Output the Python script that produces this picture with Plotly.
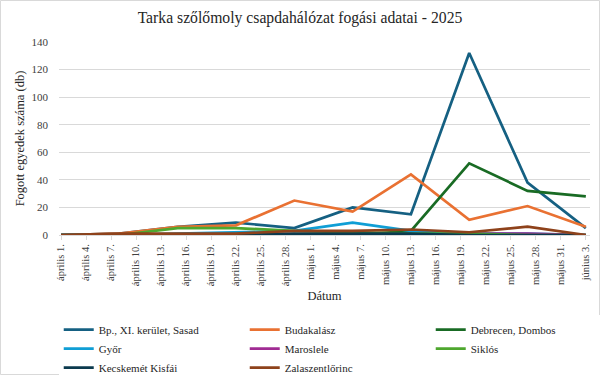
import plotly.graph_objects as go

dates = ["2025-04-01", "2025-04-08", "2025-04-15", "2025-04-22", "2025-04-29",
         "2025-05-06", "2025-05-13", "2025-05-20", "2025-05-27", "2025-06-03"]

bp_sasad = [0, 1, 6, 9, 5, 20, 15, 132, 38, 5]
budakalasz = [0, 1, 6, 7, 25, 17, 44, 11, 21, 6]
debrecen = [0, 0, 0, 0, 0, 0, 3, 52, 32, 28]
gyor = [0, 0, 1, 2, 3, 9, 3, 1, 1, 0]
maroslele = [0, 0, 0, 0, 0, 0, 0, 1, 1, 0]
siklos = [0, 0, 5, 5, 3, 2, 1, 1, 0, 0]
kecskemet = [0, 0, 0, 0, 1, 1, 1, 0, 0, 0]
zalaszentlorinc = [0, 1, 1, 1, 3, 3, 4, 2, 6, 0]

series_names = ["Bp., XI. kerület, Sasad", "Budakalász", "Debrecen, Dombos", "Győr",
                "Maroslele", "Siklós", "Kecskemét Kisfái", "Zalaszentlőrinc"]
series_values = [bp_sasad, budakalasz, debrecen, gyor, maroslele, siklos, kecskemet, zalaszentlorinc]
colors = ["#156082", "#E97132", "#196B24", "#0F9ED5", "#A02B93", "#4EA72E", "#0B3A4E", "#8E421B"]

tick_dates = ["2025-04-01", "2025-04-04", "2025-04-07", "2025-04-10", "2025-04-13", "2025-04-16",
              "2025-04-19", "2025-04-22", "2025-04-25", "2025-04-28", "2025-05-01", "2025-05-04",
              "2025-05-07", "2025-05-10", "2025-05-13", "2025-05-16", "2025-05-19", "2025-05-22",
              "2025-05-25", "2025-05-28", "2025-05-31", "2025-06-03"]
tick_labels = ["április 1.", "április 4.", "április 7.", "április 10.", "április 13.", "április 16.",
               "április 19.", "április 22.", "április 25.", "április 28.", "május 1.", "május 4.",
               "május 7.", "május 10.", "május 13.", "május 16.", "május 19.", "május 22.",
               "május 25.", "május 28.", "május 31.", "június 3."]

FONT = "Liberation Serif"

fig = go.Figure()
for name, vals, col in zip(series_names, series_values, colors):
    fig.add_trace(go.Scatter(x=dates, y=vals, mode="lines", name=name,
                             line=dict(color=col, width=2.7)))

fig.update_layout(
    width=600, height=375,
    margin=dict(l=59, r=10, t=42, b=140, autoexpand=False),
    paper_bgcolor="white", plot_bgcolor="white",
    font=dict(family=FONT, color="#404040", size=11),
    title=dict(text="Tarka szőlőmoly csapdahálózat fogási adatai - 2025",
               x=0.5, xanchor="center", y=0.952, yanchor="middle",
               font=dict(family=FONT, size=15.7, color="#262626")),
    xaxis=dict(
        type="date", automargin=False,
        range=["2025-03-31 18:00", "2025-06-03 12:00"],
        tickmode="array", tickvals=tick_dates, ticktext=tick_labels,
        tickangle=-90, tickfont=dict(family=FONT, size=10.5, color="#404040"),
        showgrid=False, showline=True, linecolor="#D9D9D9", linewidth=1,
        ticks="outside", ticklen=4, tickcolor="#D9D9D9",
        title=dict(text="Dátum", font=dict(family=FONT, size=12.5, color="#262626"), standoff=6),
        zeroline=False,
    ),
    yaxis=dict(
        range=[0, 140], dtick=20, tick0=0, automargin=False,
        showgrid=True, gridcolor="#D9D9D9", gridwidth=1,
        zeroline=False, showline=False,
        ticklabelstandoff=10,
        tickfont=dict(family=FONT, size=11, color="#404040"),
        title=dict(text="Fogott egyedek száma (db)", font=dict(family=FONT, size=12.5, color="#262626"), standoff=4),
    ),
    legend=dict(
        orientation="h", x=-0.0005, xanchor="left", y=-0.415, yanchor="top",
        entrywidth=141, entrywidthmode="pixels",
        font=dict(family=FONT, size=11, color="#262626"),
        itemwidth=30, tracegroupgap=0,
    ),
    showlegend=True,
)

# light outer border of chart area
fig.add_shape(type="rect", xref="paper", yref="paper",
              x0=(0.5 - 59) / 531, x1=(599.5 - 59) / 531,
              y0=(235 - 374.5) / 193, y1=(235 - 0.5) / 193,
              line=dict(color="#D9D9D9", width=1), fillcolor="rgba(0,0,0,0)", layer="below")

fig.write_html("out.html", config={"displayModeBar": False},
               post_script="document.body.style.margin='0';document.body.style.overflow='hidden';")
